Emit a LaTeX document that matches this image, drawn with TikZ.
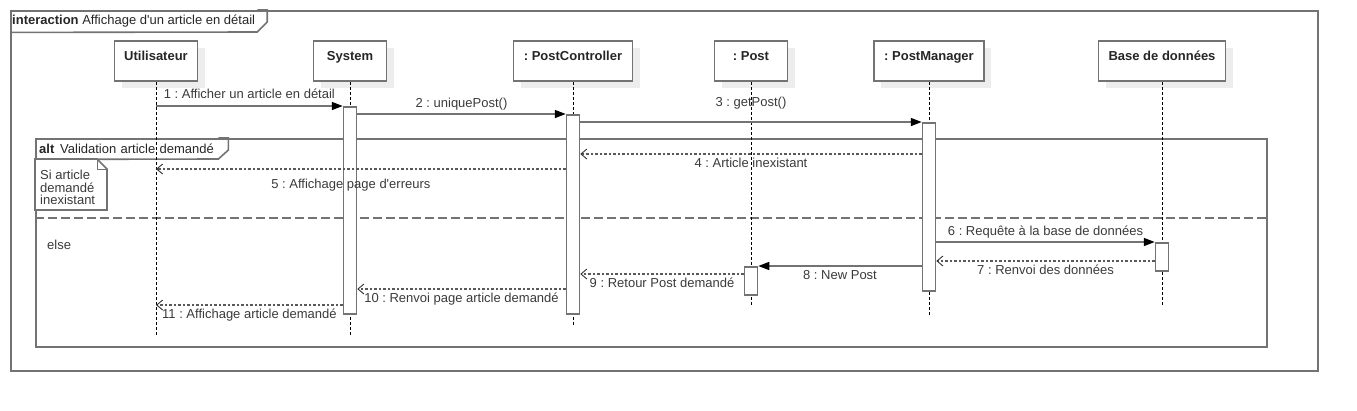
\documentclass[tikz,border=0pt]{standalone}
\usepackage{fontspec}
\setmainfont{Liberation Sans}
\usetikzlibrary{arrows.meta,shadows}

\definecolor{linegray}{HTML}{737373}
\definecolor{textgray}{HTML}{3A3A3A}
\definecolor{shadegray}{HTML}{EDEDED}

\begin{document}
\frenchspacing
\begin{tikzpicture}[x=1pt,y=-1pt,>={Triangle[length=11pt,width=8pt,color=black]},
  font=\fontsize{13}{12.5}\selectfont\frenchspacing,
  head/.style={rectangle,draw=linegray,line width=1.5pt,fill=white,
    font=\fontsize{13}{12.5}\selectfont\bfseries,text=black!85,
    minimum height=40pt,text height=16pt,text depth=18pt,inner sep=3pt,
    drop shadow={shadow xshift=7pt,shadow yshift=-7pt,fill=shadegray,opacity=1,draw=none}},
  act/.style={rectangle,draw=linegray,line width=1.5pt,fill=white,
    minimum width=13pt,inner sep=0pt,anchor=north},
  lifeline/.style={draw=black,line width=0.8pt,dash pattern=on 3pt off 2pt},
  frame/.style={draw=linegray,line width=1.6pt},
  msg/.style={->,color=linegray,line width=1.6pt},
  ret/.style={-{Straight Barb[length=6pt,width=10pt,line width=0.9pt,color=black!80]},
    color=black!65,line width=1.3pt,dash pattern=on 2.5pt off 2pt}]

  \useasboundingbox (0,0) rectangle (1357,410);

  % frames
  \node[frame,anchor=north west,minimum width=1307pt,minimum height=360pt,inner sep=0pt] (sd) at (10,10) {};
  \node[anchor=north west,inner xsep=2pt,minimum height=22pt,text=black!85] (sd title) at (sd.north west)
    {\textbf{interaction} Affichage d\textquotesingle un article en détail};
  \draw[frame] (sd title.north east) -- ++(10,0) -- ++(0,12) -- ++(-10,10) -- (sd title.south west);

  \node[frame,anchor=north west,minimum width=1231pt,minimum height=208pt,inner sep=0pt] (alt) at (35,138) {};
  \node[anchor=north west,text width=175pt,inner xsep=4pt,minimum height=21pt,text=black!85] (alt title) at (alt.north west)
    {\textbf{alt}\hspace{1.5pt} Validation article demandé};
  \draw[frame] (alt title.north east) -- ++(10,0) -- ++(0,12) -- ++(-10,9) -- (alt title.south west);
  \draw[frame,fill=white] (35,159) -- (97,159) -- (107,169) -- (107,210) -- (35,210) -- cycle;
  \draw[frame,line width=1pt] (97,159) -- (97,169) -- (107,169);
  \node[anchor=north west,align=left,inner sep=0pt,text=textgray] (guard) at (40,170)
    {Si article\\demandé\\inexistant};
  \draw[frame,dash pattern=on 9pt off 4pt] (alt.west |- 0,218) -- (alt.east |- 0,218);
  \node[anchor=base west,inner sep=0pt,text=textgray] (else) at (47,249) {else};

  % lifelines
  \node[head,minimum width=83pt] (user) at (156,61) {Utilisateur};
  \node[head,minimum width=73pt] (sys) [node distance=194pt,right of=user] {System};
  \node[head,minimum width=119pt] (pc) [node distance=223pt,right of=sys] {: PostController};
  \node[head,minimum width=73pt] (post) [node distance=178pt,right of=pc] {: Post};
  \node[head,minimum width=110pt] (pm) [node distance=178pt,right of=post] {: PostManager};
  \node[head,minimum width=127pt] (db) [node distance=233pt,right of=pm] {Base de données};

  \foreach \n/\y in {user/335,sys/335,pc/325,post/306,pm/315,db/306}
    \draw[lifeline] (\n.south) -- (\n |- 0,\y);

  \node[act,minimum height=207pt] (sys bar) at (sys |- 0,106) {};
  \node[act,minimum height=199pt] (pc bar) at (pc |- 0,114) {};
  \node[act,minimum height=168pt] (pm bar) at (pm |- 0,122) {};
  \node[act,minimum height=28pt] (db bar) at (db |- 0,242) {};
  \node[act,minimum height=28pt] (post bar) at (post |- 0,266) {};

  % message levels
  \foreach \n/\y in {4/154,5/169,7/261,9/274,10/289,11/305}
    \coordinate (m\n) at (0,\y);

  \path[every node/.style={text=textgray,inner sep=3.5pt}]
    (user |- sys bar.north) edge[msg] node[above=3pt] {1 : Afficher un article en détail} (sys bar.north west)
    (sys bar.east |- pc bar.north) edge[msg] node[above] {2 : uniquePost()} (pc bar.north west)
    (pc bar.east |- pm bar.north) edge[msg] node[above=9pt] {3 : getPost()} (pm bar.north west)
    (pm bar.east |- db bar.north) edge[msg] node[above] {6 : Requête à la base de données} (db bar.north west)
    (pm bar.west |- post bar.north) edge[msg] node[below] {8 : New Post} (post bar.north east);

  \path[every node/.style={text=textgray,inner sep=3.5pt}]
    (pm bar.west |- m4) edge[ret] node[below] {4 : Article inexistant} (pc bar.east |- m4)
    (pc bar.west |- m5) edge[ret] node[below=6pt,xshift=-10pt] {5 : Affichage page d\textquotesingle erreurs} (user |- m5)
    (db bar.west |- m7) edge[ret] node[below] {7 : Renvoi des données} (pm bar.east |- m7)
    (post bar.west |- m9) edge[ret] node[below] {9 : Retour Post demandé} (pc bar.east |- m9)
    (pc bar.west |- m10) edge[ret] node[below] {10 : Renvoi page article demandé} (sys bar.east |- m10)
    (sys bar.west |- m11) edge[ret] node[below] {11 : Affichage article demandé} (user |- m11);
\end{tikzpicture}
\end{document}
